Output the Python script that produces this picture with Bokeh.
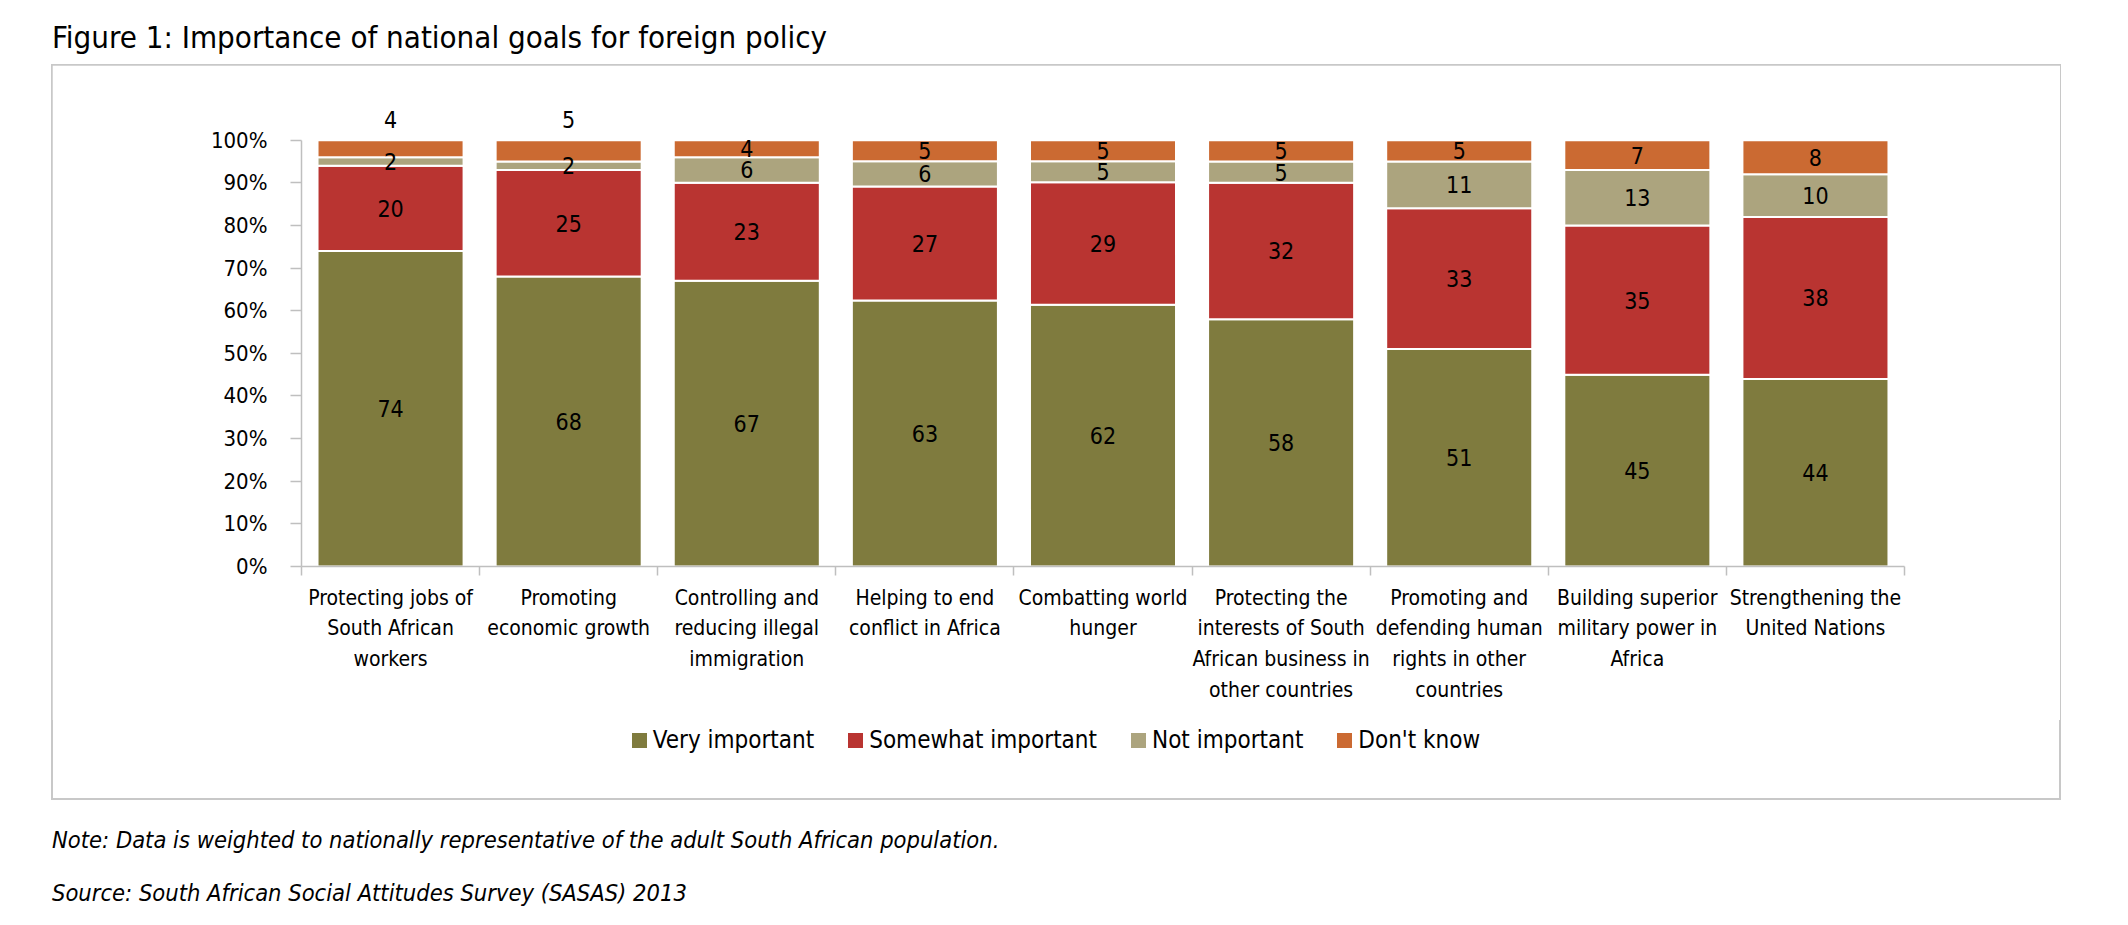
from bokeh.plotting import figure
from bokeh.layouts import column
from bokeh.models import (Range1d, LinearAxis, FixedTicker, NumeralTickFormatter, Div,
                          ColumnDataSource, LabelSet)
from bokeh.core.properties import value
from bokeh.embed import file_html
from bokeh.resources import INLINE

# ---------------- data ----------------
categories = [
    "Protecting jobs of\nSouth African\nworkers",
    "Promoting\neconomic growth",
    "Controlling and\nreducing illegal\nimmigration",
    "Helping to end\nconflict in Africa",
    "Combatting world\nhunger",
    "Protecting the\ninterests of South\nAfrican business in\nother countries",
    "Promoting and\ndefending human\nrights in other\ncountries",
    "Building superior\nmilitary power in\nAfrica",
    "Strengthening the\nUnited Nations",
]
very_important = [74, 68, 67, 63, 62, 58, 51, 45, 44]
somewhat_important = [20, 25, 23, 27, 29, 32, 33, 35, 38]
not_important = [2, 2, 6, 6, 5, 5, 11, 13, 10]
dont_know = [4, 5, 4, 5, 5, 5, 5, 7, 8]
series_names = ["Very important", "Somewhat important", "Not important", "Don't know"]
y_ticks = [0.0, 0.1, 0.2, 0.3, 0.4, 0.5, 0.6, 0.7, 0.8, 0.9, 1.0]
title_text = "Figure 1: Importance of national goals for foreign policy"
note_text = "Note: Data is weighted to nationally representative of the adult South African population."
source_text = "Source: South African Social Attitudes Survey (SASAS) 2013"

# ---------------- style ----------------
colors = ["#7F7B3E", "#B93431", "#ACA47E", "#CB6A32"]
FONT = "'DejaVu Sans Condensed', 'Liberation Sans Narrow', 'Liberation Sans', sans-serif"
AXIS_COLOR = "#BFBFBF"
PAGE_W, PAGE_H = 2128, 925
BOX_L, BOX_T, BOX_W, BOX_H = 52, 65, 2008, 734
FIG_H = 655
lifted = [True, True, False, False, False, False, False, False, False]  # Don't know label shown above the bar

# ---------------- derived ----------------
n = len(categories)
slot = [i + 0.5 for i in range(n)]          # category centres on the slot scale
series = [very_important, somewhat_important, not_important, dont_know]
totals = [sum(v) for v in zip(*series)]
data = {"x": slot}
for name, vals in zip(series_names, series):
    data[name] = [v / t for v, t in zip(vals, totals)]
src = ColumnDataSource(data)

p = figure(width=BOX_W, height=FIG_H, x_range=Range1d(0, n), y_range=Range1d(0, 1.1),
           output_backend="svg", toolbar_location=None, x_axis_location=None,
           min_border_left=249, min_border_right=156, min_border_top=32,
           min_border_bottom=FIG_H - 501, margin=0)
p.outline_line_color = None
p.xgrid.visible = False
p.ygrid.visible = False
p.background_fill_color = "white"
p.border_fill_color = "white"

renderers = p.vbar_stack(series_names, x="x", width=0.82, color=colors,
                         line_color="white", line_width=2, source=src)

# y axis
ya = p.yaxis[0]
ya.ticker = FixedTicker(ticks=y_ticks)
ya.bounds = (0, 1)
ya.formatter = NumeralTickFormatter(format="0%")
ya.axis_line_color = AXIS_COLOR
ya.axis_line_width = 1.5
ya.major_tick_line_color = AXIS_COLOR
ya.major_tick_line_width = 1.5
ya.major_tick_out = 11
ya.major_tick_in = 0
ya.minor_tick_line_color = None
ya.major_label_standoff = 23
ya.major_label_text_font = FONT
ya.major_label_text_font_size = "22px"
ya.major_label_text_color = "black"

# x axis: labels at category centres, ticks at boundaries
bounds = [float(i) for i in range(n + 1)]
xa = LinearAxis(ticker=FixedTicker(ticks=slot, minor_ticks=bounds))
xa.major_label_overrides = {c: lab for c, lab in zip(slot, categories)}
xa.axis_line_color = AXIS_COLOR
xa.axis_line_width = 1.5
xa.major_tick_line_color = None
xa.major_tick_out = 0
xa.major_tick_in = 0
xa.minor_tick_line_color = AXIS_COLOR
xa.minor_tick_line_width = 1.5
xa.minor_tick_out = 9
xa.minor_tick_in = 0
xa.major_label_standoff = 10
xa.major_label_text_font = FONT
xa.major_label_text_font_size = "21px"
xa.major_label_text_color = "black"
xa.major_label_text_line_height = 1.28
p.add_layout(xa, "below")

# value labels
lx, ly, lt, lo = [], [], [], []
for i in range(n):
    base = 0.0
    for j, vals in enumerate(series):
        share = vals[i] / totals[i]
        lx.append(slot[i])
        if j == 3 and lifted[i]:
            ly.append(1.0)
            lo.append(21)
        else:
            ly.append(base + share / 2)
            lo.append(0)
        lt.append(str(vals[i]))
        base += share
lab_src = ColumnDataSource(dict(x=lx, y=ly, text=lt, off=lo))
p.add_layout(LabelSet(x="x", y="y", text="text", y_offset="off", source=lab_src,
                      text_align="center", text_baseline="middle",
                      text_font=value(FONT), text_font_size="23px", text_color="black"))

# legend (HTML row under the plot, inside the bordered box)
items_html = "".join(
    f'<span style="display:inline-flex;align-items:center;margin:0 17px;">'
    f'<span style="display:inline-block;width:15px;height:15px;background:{c};margin-right:6px;"></span>'
    f'{nm}</span>'
    for nm, c in zip(series_names, colors))
legend_div = Div(text=f'<div style="display:flex;justify-content:center;align-items:center;'
                      f'width:{BOX_W}px;height:40px;">{items_html}</div>',
                 width=BOX_W, height=BOX_H - FIG_H, margin=0,
                 styles={"font-family": FONT, "font-size": "24px", "line-height": "24px",
                         "color": "black", "white-space": "nowrap"})

box = column(p, legend_div, spacing=0, margin=(0, 0, 0, BOX_L), width=BOX_W, height=BOX_H,
             styles={"outline": "2px solid #C8C8C8", "outline-offset": "-1px", "background": "white"})

# page texts
title_div = Div(text=title_text, width=PAGE_W, height=BOX_T, margin=0,
                styles={"font-family": FONT, "font-size": "31px", "line-height": "31px",
                        "padding-top": "22px", "padding-left": f"{BOX_L}px", "color": "black",
                        "box-sizing": "border-box", "white-space": "nowrap"})
note_div = Div(text=note_text, width=PAGE_W, height=63, margin=0,
               styles={"font-family": FONT, "font-size": "23.5px", "line-height": "24px",
                       "font-style": "italic", "padding-top": "29px", "padding-left": f"{BOX_L}px",
                       "color": "black", "box-sizing": "border-box", "white-space": "nowrap"})
source_div = Div(text=source_text, width=PAGE_W, height=PAGE_H - BOX_T - BOX_H - 63, margin=0,
                 styles={"font-family": FONT, "font-size": "23.5px", "line-height": "24px",
                         "font-style": "italic", "padding-top": "19px", "padding-left": f"{BOX_L}px",
                         "color": "black", "box-sizing": "border-box", "white-space": "nowrap"})

page = column(title_div, box, note_div, source_div, spacing=0, margin=0)
open("out.html", "w").write(file_html(page, INLINE))
